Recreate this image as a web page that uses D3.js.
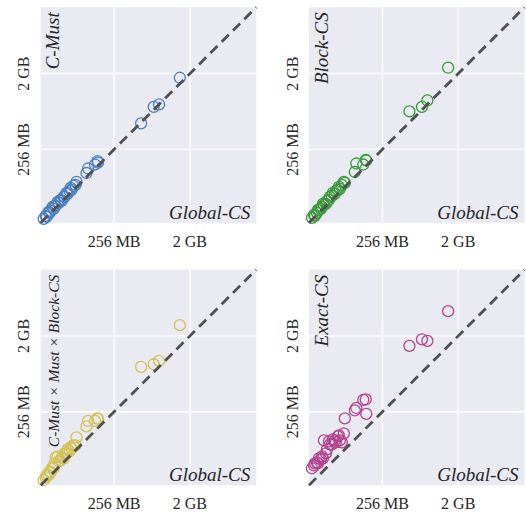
<!DOCTYPE html>
<html>
<head>
<meta charset="utf-8">
<script src="https://cdn.jsdelivr.net/npm/d3@7"></script>
<style>
  body { margin: 0; background: #fff; }
</style>
</head>
<body>
<div id="chart"></div>
<script>
// memory use in MB, x is always Global-CS
let globalCS = [37.1, 39.2, 40.3, 42.5, 43.7, 44.9, 47.4, 48.8, 50.1, 51.5, 54.4, 55.9, 59.0, 60.7, 64.1, 65.8,
  69.5, 71.5, 75.5, 77.6, 79.7, 84.2, 88.9, 91.4, 120.1, 125.2, 151.6, 162.3, 164.5, 536.8, 758, 878.6, 1552];
let cMust = [38.1, 41.4, 40.3, 46.2, 44.9, 47.4, 52.9, 50.1, 54.4, 54.4, 60.7, 59.0, 64.1, 62.3, 69.5, 69.5,
  77.6, 75.5, 81.9, 88.9, 84.2, 93.9, 96.5, 104.8, 134.0, 151.6, 169.1, 186.1, 178.6, 522, 822, 879, 1827];
let blockCS = [39.2, 42.5, 41.4, 44.9, 48.8, 48.8, 50.1, 52.9, 57.4, 55.9, 57.4, 62.3, 64.1, 69.5, 71.5, 77.6,
  75.5, 81.9, 84.2, 91.4, 86.5, 96.5, 104.8, 102.0, 137.7, 173.8, 169.1, 191.3, 188.7, 725, 822, 980, 2405];
let cMustMustBlockCS = [39.2, 42.5, 44.9, 44.9, 50.1, 48.8, 55.9, 54.4, 62.3, 73.5, 75.5, 65.8, 67.7, 73.5, 71.5, 81.9,
  81.9, 91.4, 86.5, 96.5, 93.9, 102.0, 102.0, 126.9, 171.5, 199.3, 199.3, 213.4, 210.4, 879, 943, 1035, 2757];
let exactCS = [54.4, 59.0, 62.3, 64.1, 62.3, 71.5, 69.5, 75.5, 71.5, 116.9, 81.9, 91.4, 113.7, 104.8, 104.8, 120.1,
  116.9, 110.7, 130.4, 134.0, 116.9, 110.7, 141.5, 213.4, 265.6, 284.5, 354.2, 359.0, 241.4, 1560, 1869, 1790, 4046];

let tickValues = [256, 2048];
let tickLabels = ["256 MB", "2 GB"];
let axisDomain = [34.2, 12608];

let panels = [
  {label: "C-Must", values: cMust, color: "#4a7fc0", col: 0, row: 0, size: 19},
  {label: "Block-CS", values: blockCS, color: "#3a9b3a", col: 1, row: 0, size: 19},
  {label: "C-Must \u00d7 Must \u00d7 Block-CS", values: cMustMustBlockCS, color: "#d3c154", col: 0, row: 1, size: 15.5},
  {label: "Exact-CS", values: exactCS, color: "#b2438f", col: 1, row: 1, size: 19}
];

let side = 215.5;
let lefts = [40.7, 309];
let tops = [7.3, 269.7];
let serif = "'Liberation Serif', 'Times New Roman', serif";

let svg = d3.select("#chart").append("svg")
  .attr("width", 526)
  .attr("height", 514)
  .attr("font-family", serif);

panels.forEach(function (p) {
  let g = svg.append("g")
    .attr("transform", "translate(" + lefts[p.col] + "," + tops[p.row] + ")");

  let x = d3.scaleLog().domain(axisDomain).range([0, side]);
  let y = d3.scaleLog().domain(axisDomain).range([side, 0]);

  g.append("rect")
    .attr("width", side)
    .attr("height", side)
    .attr("fill", "#eaeaf2");

  // grid
  g.selectAll(".vgrid").data(tickValues).enter().append("line")
    .attr("x1", function (d) { return x(d); })
    .attr("x2", function (d) { return x(d); })
    .attr("y1", 0).attr("y2", side)
    .attr("stroke", "#fff").attr("stroke-width", 1.4);
  g.selectAll(".hgrid").data(tickValues).enter().append("line")
    .attr("y1", function (d) { return y(d); })
    .attr("y2", function (d) { return y(d); })
    .attr("x1", 0).attr("x2", side)
    .attr("stroke", "#fff").attr("stroke-width", 1.4);

  // tick labels
  g.selectAll(".xtick").data(tickValues).enter().append("text")
    .attr("x", function (d) { return x(d); })
    .attr("y", side + 24)
    .attr("text-anchor", "middle")
    .attr("fill", "#262626")
    .style("font-size", "16px")
    .text(function (d, i) { return tickLabels[i]; });
  g.selectAll(".ytick").data(tickValues).enter().append("text")
    .attr("transform", function (d) { return "translate(-11.5," + y(d) + ") rotate(-90)"; })
    .attr("text-anchor", "middle")
    .attr("fill", "#262626")
    .style("font-size", "16px")
    .text(function (d, i) { return tickLabels[i]; });

  // points
  g.selectAll(".pt").data(globalCS).enter().append("circle")
    .attr("cx", function (d) { return x(d); })
    .attr("cy", function (d, i) { return y(p.values[i]); })
    .attr("r", 5.5)
    .attr("fill", "none")
    .attr("stroke", p.color)
    .attr("stroke-width", 1.3);

  // y = x
  g.append("line")
    .attr("x1", x(axisDomain[0])).attr("y1", y(axisDomain[0]))
    .attr("x2", x(axisDomain[1])).attr("y2", y(axisDomain[1]))
    .attr("stroke", "#505050")
    .attr("stroke-width", 2.8)
    .style("stroke-dasharray", ("10, 6"));

  g.append("text")
    .attr("x", side - 6)
    .attr("y", side - 4)
    .attr("text-anchor", "end")
    .attr("fill", "#262626")
    .style("font-size", "19px")
    .style("font-style", "italic")
    .text("Global-CS");

  g.append("text")
    .attr("transform", "translate(18.5,5) rotate(-90)")
    .attr("text-anchor", "end")
    .attr("fill", "#262626")
    .style("font-size", p.size + "px")
    .style("font-style", "italic")
    .text(p.label);
});
</script>
</body>
</html>
